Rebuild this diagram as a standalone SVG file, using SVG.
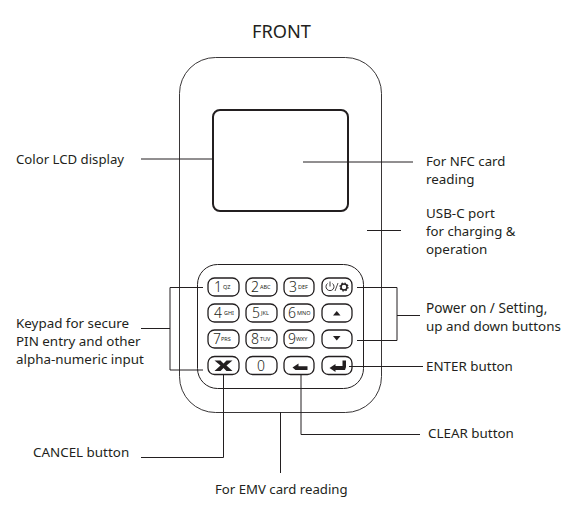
<svg xmlns="http://www.w3.org/2000/svg" width="577" height="517" viewBox="0 0 577 517">
<style>
.t{font-family:"Noto Sans","Open Sans",sans-serif;font-size:13.4px;fill:#231f20}
.k{fill:#fff;stroke:#231f20;stroke-width:1.3}
.d{font-family:"Noto Sans",sans-serif;font-size:14px;font-weight:300;fill:#231f20}
.s{font-family:"Noto Sans",sans-serif;font-size:5.500px;fill:#231f20}
.c{fill:none;stroke:#231f20;stroke-width:1}
.g{fill:#231f20;stroke:none}
</style>
<rect width="577" height="517" fill="#fff"/>
<g id="title"><text x="281.500" y="38" text-anchor="middle" style="font-family:'Noto Sans',sans-serif;font-size:18.2px;fill:#231f20">FRONT</text></g>
<g id="body"><rect x="179.500" y="57.500" width="202" height="355" rx="36" fill="#fff" stroke="#231f20" stroke-width="0.900"/></g>
<g id="lcd"><rect x="213" y="110" width="135" height="101" rx="7" fill="#fff" stroke="#231f20" stroke-width="2"/></g>
<g id="keypad">
<rect x="197.500" y="264.500" width="166" height="124" rx="20" fill="#fff" stroke="#231f20" stroke-width="1"/>
</g>
<g id="keys">
<rect class="k" x="208" y="278" width="31" height="18" rx="6.500"/><text class="d" x="214" y="292">1</text><text class="s" x="223" y="289">QZ</text>
<rect class="k" x="246" y="278" width="31" height="18" rx="6.500"/><text class="d" x="251" y="292">2</text><text class="s" x="260" y="289">ABC</text>
<rect class="k" x="284" y="278" width="30" height="18" rx="6.500"/><text class="d" x="289" y="292">3</text><text class="s" x="298" y="289">DEF</text>
<rect class="k" x="322" y="278" width="30" height="18" rx="6.500"/>
<path d="M327.500 283.500a4 4 0 1 0 5 0M330 281.500v5" fill="none" stroke="#231f20" stroke-width="0.900"/>
<path d="M335 291l3-8" fill="none" stroke="#231f20" stroke-width="0.800"/>
<circle cx="344" cy="287" r="3" fill="none" stroke="#231f20" stroke-width="1.500"/><circle cx="344" cy="287" r="4" fill="none" stroke="#231f20" stroke-width="1.200" stroke-dasharray="1.500 1.640"/>

<rect class="k" x="208" y="304" width="31" height="18" rx="6.500"/><text class="d" x="214" y="318">4</text><text class="s" x="224" y="315">GHI</text>
<rect class="k" x="246" y="304" width="31" height="18" rx="6.500"/><text class="d" x="252" y="318">5</text><text class="s" x="261" y="315">JKL</text>
<rect class="k" x="284" y="304" width="30" height="18" rx="6.500"/><text class="d" x="288" y="318">6</text><text class="s" x="297" y="315">MNO</text>
<rect class="k" x="322" y="304" width="30" height="18" rx="6.500"/><path class="g" d="M333 315.500h7.500l-3.750-4.500z"/>

<rect class="k" x="208" y="330" width="31" height="18" rx="6.500"/><text class="d" x="213" y="344">7</text><text class="s" x="221" y="341">PRS</text>
<rect class="k" x="246" y="330" width="31" height="18" rx="6.500"/><text class="d" x="251" y="344">8</text><text class="s" x="260" y="341">TUV</text>
<rect class="k" x="284" y="330" width="30" height="18" rx="6.500"/><text class="d" x="288" y="344">9</text><text class="s" x="296" y="341">WXY</text>
<rect class="k" x="322" y="330" width="30" height="18" rx="6.500"/><path class="g" d="M333 336h7.500l-3.750 4.500z"/>

<rect class="k" x="208" y="356.500" width="31" height="18" rx="6.500"/><path d="M214.500 360.500h6l3 3 3-3h6l-6 5 6 5.500h-6l-3-3-3 3h-6l6-5.500z" class="g"/>
<rect class="k" x="246" y="356.500" width="31" height="18" rx="6.500"/><text class="d" x="257" y="370.500">0</text>
<rect class="k" x="284" y="356.500" width="30" height="18" rx="6.500"/><path class="g" d="M292.500 367.500l6-4v2.800h9v3.700h-12z"/>
<rect class="k" x="322" y="356.500" width="30" height="18" rx="6.500"/><path class="g" d="M329.500 368l6-4v2h7v-5.500h3.500v6.500l-1 3h-9.500v2z"/>
</g>
<g id="connectors">
<path class="c" d="M141 159H213M303 162H413M367 230.500H401M141 328.500H170M203 287.500H170V370H203M357 287.500H397V340.500H357M397 315.500H420M349 366.500H423M223.500 374V457.500H141M301 374V434.500H420M280.500 412V473"/>
</g>
<g id="labels">
<text class="t" x="16" y="164" style="font-size:13.2px">Color LCD display</text>
<text class="t" x="426" y="166" style="font-size:13.2px">For NFC card</text>
<text class="t" x="426" y="184">reading</text>
<text class="t" x="426" y="218">USB-C port</text>
<text class="t" x="426" y="236" style="font-size:13.2px">for charging &amp;</text>
<text class="t" x="426" y="254">operation</text>
<text class="t" x="426" y="313" style="font-size:13.6px">Power on / Setting,</text>
<text class="t" x="426" y="331">up and down buttons</text>
<text class="t" x="426" y="371">ENTER button</text>
<text class="t" x="16" y="328">Keypad for secure</text>
<text class="t" x="16" y="346">PIN entry and other</text>
<text class="t" x="16" y="364">alpha-numeric input</text>
<text class="t" x="33" y="457">CANCEL button</text>
<text class="t" x="428" y="438">CLEAR button</text>
<text class="t" x="215" y="494" style="font-size:13.2px">For EMV card reading</text>
</g>
</svg>
